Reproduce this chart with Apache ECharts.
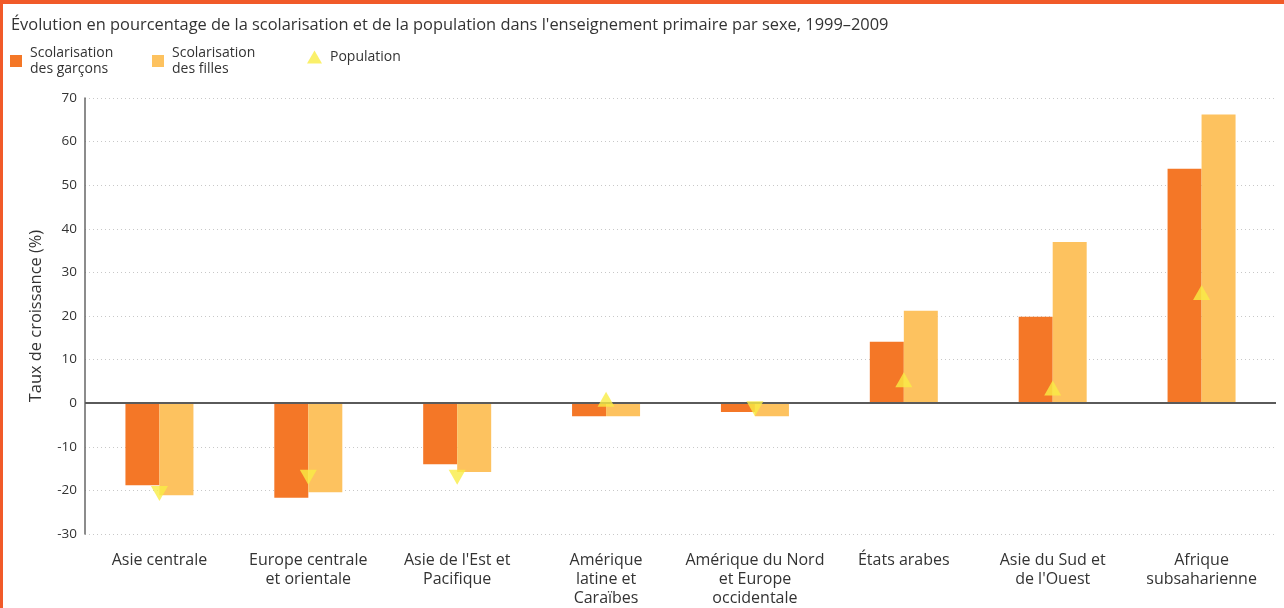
<!DOCTYPE html>
<html lang="fr">
<head>
  <meta charset="UTF-8">
  <title>Évolution de la scolarisation et de la population</title>
  <style>
    * { margin: 0; padding: 0; }
    html, body { height: 100%; background: #fff; }
    #chart { width: 1284px; height: 608px; }
  </style>
</head>
<body>
  <div id="chart"></div>
  <script src="https://cdn.jsdelivr.net/npm/echarts@6/dist/echarts.min.js"></script>
  <script>
    // données
    const regions = [
      'Asie centrale',
      'Europe centrale\net orientale',
      "Asie de l'Est et\nPacifique",
      'Amérique\nlatine et\nCaraïbes',
      'Amérique du Nord\net Europe\noccidentale',
      'États arabes',
      'Asie du Sud et\nde l\'Ouest',
      'Afrique\nsubsaharienne'
    ];
    const garcons = [-18.8, -21.7, -14.0, -3.0, -2.0, 14.1, 19.8, 53.8];
    const filles = [-21.1, -20.4, -15.8, -3.0, -3.0, 21.2, 37.0, 66.2];
    const population = [-20.7, -17.0, -17.0, 0.9, -1.3, 5.4, 3.5, 25.4];
    const yTicks = { min: -30, max: 70, step: 10 };

    const FONT = 'Open Sans';
    const NOM_G = 'Scolarisation\ndes garçons';
    const NOM_F = 'Scolarisation\ndes filles';
    const NOM_P = 'Population';

    const chart = echarts.init(document.getElementById('chart'), null, { renderer: 'canvas' });

    const legendText = { fontFamily: FONT, fontSize: 14, color: '#333', lineHeight: 16, padding: [0, 0, 0, 3] };
    const legendBase = { padding: 0, itemGap: 0, itemWidth: 12, itemHeight: 12, icon: 'rect', textStyle: legendText };

    const option = {
      animation: false,
      textStyle: { fontFamily: FONT },
      title: {
        text: "Évolution en pourcentage de la scolarisation et de la population dans l'enseignement primaire par sexe, 1999–2009",
        left: 6,
        top: 12,
        textStyle: { fontFamily: FONT, fontSize: 16.4, fontWeight: 'normal', color: '#333' }
      },
      legend: [
        Object.assign({}, legendBase, { data: [NOM_G], left: 10, top: 45 }),
        Object.assign({}, legendBase, { data: [NOM_F], left: 152, top: 45 }),
        Object.assign({}, legendBase, { data: [NOM_P], left: 307, top: 49, itemWidth: 15, itemHeight: 13, icon: 'triangle' })
      ],
      grid: { left: 85, right: 8, top: 98, bottom: 73 },
      xAxis: {
        type: 'category',
        data: regions,
        axisLine: { show: false },
        axisTick: { show: false },
        axisLabel: {
          interval: 0,
          margin: 17,
          fontFamily: FONT,
          fontSize: 16,
          color: '#333',
          lineHeight: 19
        }
      },
      yAxis: {
        type: 'value',
        min: yTicks.min,
        max: yTicks.max,
        interval: yTicks.step,
        name: 'Taux de croissance (%)',
        nameLocation: 'middle',
        nameGap: 41,
        nameTextStyle: { fontFamily: FONT, fontSize: 16.4, color: '#333' },
        axisLine: { show: true, lineStyle: { color: '#666', width: 1.5 } },
        axisTick: { show: false },
        axisLabel: { margin: 8, fontFamily: FONT, fontSize: 13.5, color: '#333' },
        splitLine: { show: true, lineStyle: { color: '#c8c8c8', type: [1, 3], width: 1 } }
      },
      series: [
        {
          name: NOM_G,
          type: 'bar',
          data: garcons,
          barWidth: 34,
          barGap: '0%',
          itemStyle: { color: '#F47727' },
          markLine: {
            silent: true,
            symbol: 'none',
            label: { show: false },
            lineStyle: { color: '#5a5a5a', type: 'solid', width: 2 },
            data: [{ yAxis: 0 }],
            z: 5
          }
        },
        {
          name: NOM_F,
          type: 'bar',
          data: filles,
          barWidth: 34,
          barGap: '0%',
          itemStyle: { color: '#FDC25F' }
        },
        {
          name: NOM_P,
          type: 'scatter',
          symbol: 'triangle',
          symbolSize: [17, 15],
          z: 10,
          itemStyle: { color: '#F9EC45' },
          data: population.map(v => ({ value: v, symbolRotate: v < 0 ? 180 : 0 }))
        }
      ],
      graphic: [
        { type: 'rect', left: 0, top: 0, shape: { width: 1284, height: 4 }, style: { fill: '#F15A29' } },
        { type: 'rect', left: 0, top: 0, shape: { width: 3, height: 608 }, style: { fill: '#F15A29' } }
      ]
    };

    chart.setOption(option);
    window.addEventListener('resize', () => chart.resize());
  </script>
</body>
</html>
